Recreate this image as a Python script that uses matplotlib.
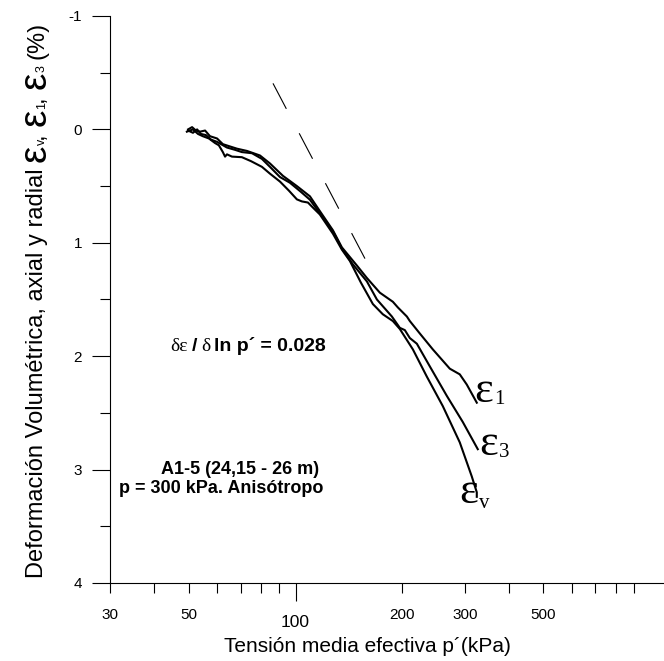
import matplotlib
matplotlib.use('Agg')
import matplotlib.pyplot as plt
from matplotlib.ticker import FixedLocator, FuncFormatter

plt.rcParams['font.family'] = ['Liberation Sans', 'DejaVu Sans']
plt.rcParams['axes.unicode_minus'] = False
plt.rcParams['lines.scale_dashes'] = False

# ---------------- data ----------------
p_e1 = [49.8, 51.1, 52.4, 53.8, 55.6, 57.4, 60.1, 62.4, 65.3, 68.4, 73.0, 79.4, 84.7, 92.2,
        100.9, 109.8, 117.1, 127.5, 135.1, 148.9, 158.9, 172.9, 188.1, 194.3, 206.0, 210.0,
        224.1, 243.8, 272.2, 290.4, 303.9, 324.3]
eps_1 = [0.00, -0.02, 0.01, 0.02, 0.01, 0.06, 0.08, 0.13, 0.15, 0.17, 0.19, 0.23, 0.30, 0.41,
         0.50, 0.59, 0.72, 0.89, 1.04, 1.20, 1.31, 1.44, 1.52, 1.57, 1.65, 1.69,
         1.80, 1.94, 2.11, 2.16, 2.25, 2.41]

p_e3 = [49.8, 51.4, 52.8, 54.1, 55.9, 57.8, 60.1, 64.1, 67.5, 70.6, 75.4, 80.4, 84.7, 90.4,
        96.4, 103.5, 109.8, 117.1, 127.5, 135.1, 145.1, 158.9, 169.6, 186.9, 196.8, 203.3,
        210.0, 219.8, 239.1, 267.0, 296.1, 326.4]
eps_3 = [0.01, 0.03, 0.00, 0.04, 0.05, 0.09, 0.11, 0.16, 0.18, 0.20, 0.21, 0.26, 0.33, 0.42,
         0.47, 0.55, 0.62, 0.74, 0.90, 1.05, 1.19, 1.34, 1.50, 1.65, 1.75, 1.77,
         1.84, 1.89, 2.09, 2.35, 2.58, 2.82]

p_ev = [49.4, 51.4, 53.1, 54.8, 57.0, 59.3, 60.8, 62.4, 63.3, 64.1, 66.2, 70.6, 74.9, 80.4,
        84.7, 90.4, 95.8, 100.9, 104.2, 108.4, 112.0, 117.1, 127.5, 135.1, 142.3, 152.8,
        165.2, 176.2, 188.1, 196.8, 214.2, 234.5, 260.1, 290.4, 313.9, 324.3, 324.3]
eps_v = [0.02, 0.00, 0.04, 0.06, 0.08, 0.12, 0.14, 0.20, 0.24, 0.22, 0.24, 0.245, 0.28, 0.33,
         0.39, 0.46, 0.54, 0.617, 0.635, 0.645, 0.69, 0.75, 0.92, 1.06, 1.16, 1.35,
         1.54, 1.63, 1.69, 1.76, 1.94, 2.18, 2.44, 2.76, 3.06, 3.20, 3.24]

p_slope = [86.4, 157.9]
eps_slope = [-0.406, 1.155]

x_major = [100]
x_minor = [30, 40, 50, 60, 70, 80, 90, 200, 300, 400, 500, 600, 700, 800, 900]
x_labeled = [30, 50, 200, 300, 500]
y_major = [-1, 0, 1, 2, 3, 4]
y_minor = [-0.5, 0.5, 1.5, 2.5, 3.5]

# ---------------- figure ----------------
W, H = 664, 661
fig = plt.figure(figsize=(W / 100, H / 100), dpi=100)
ax = fig.add_axes([110 / W, 1 - 583 / H, (W - 110) / W, (583 - 16) / H])

ax.plot(p_e1, eps_1, color='black', lw=1.5)
ax.plot(p_e3, eps_3, color='black', lw=1.5)
ax.plot(p_ev, eps_v, color='black', lw=1.5)
ax.plot(p_slope, eps_slope, color='black', lw=0.8, linestyle=(0, (20.7, 19.9)))

ax.set_xscale('log')
ax.set_xlim(30, 1093)
ax.set_ylim(4, -1)

for s in ['top', 'right']:
    ax.spines[s].set_visible(False)
for s in ['left', 'bottom']:
    ax.spines[s].set_linewidth(0.8)

ax.xaxis.set_major_locator(FixedLocator(x_major))
ax.xaxis.set_major_formatter(FuncFormatter(lambda v, p: f'{v:g}'))
ax.xaxis.set_minor_locator(FixedLocator(x_minor))
ax.xaxis.set_minor_formatter(FuncFormatter(
    lambda v, p: f'{v:g}' if any(abs(v - l) < 1e-6 for l in x_labeled) else ''))
ax.tick_params(axis='x', which='major', length=13, width=0.8, labelsize=12.5, pad=10)
ax.tick_params(axis='x', which='minor', length=7, width=0.8, labelsize=11, pad=11)

ax.yaxis.set_major_locator(FixedLocator(y_major))
ax.yaxis.set_major_formatter(FuncFormatter(lambda v, p: f'{int(round(v))}'))
ax.yaxis.set_minor_locator(FixedLocator(y_minor))
ax.tick_params(axis='y', which='major', length=13, width=0.8, labelsize=11, pad=7)
ax.tick_params(axis='y', which='minor', length=7, width=0.8)

ax.set_xlabel('Tensión media efectiva p´(kPa)', fontsize=15)
ax.xaxis.set_label_coords((367 - 110) / (W - 110), -(652 - 583) / (583 - 16))
ax.xaxis.label.set_va('baseline')

renderer = fig.canvas.get_renderer()


def fpos(xp, yp):
    return xp / W, 1 - yp / H


def hpieces(x_px, y_px, parts):
    x = x_px
    for s, size, fam, weight, dy, gap in parts:
        t = fig.text(*fpos(x, y_px + dy), s, fontsize=size, family=fam, weight=weight,
                     ha='left', va='baseline')
        bb = t.get_window_extent(renderer)
        x += bb.width + gap
    return x


def vpieces(x_px, y_px, parts):
    y = y_px
    for s, size, fam, dx, gap in parts:
        t = fig.text(*fpos(x_px + dx, y), s, fontsize=size, family=fam, rotation=90,
                     rotation_mode='anchor', ha='left', va='baseline')
        bb = t.get_window_extent(renderer)
        y -= bb.height + gap


SANS = ['Liberation Sans', 'DejaVu Sans']
SERIF = ['Liberation Serif', 'DejaVu Serif']

# y label built from pieces (big epsilons, small subscripts)
vpieces(43, 578, [
    ('Deformación Volumétrica, axial y radial', 17, SANS, 0, 6),
    ('ε', 28, SANS, 3, 0),
    ('v', 9, SANS, 2, 0),
    (',', 17, SANS, 0, 6),
    ('ε', 28, SANS, 3, 0),
    ('1', 9, SANS, 2, 0),
    (',', 17, SANS, 0, 6),
    ('ε', 28, SANS, 3, 0),
    ('3', 9, SANS, 2, 6),
    ('(%)', 17, SANS, 0, 0),
])

# slope annotation
hpieces(170, 351, [
    ('δε', 14, SERIF, 'normal', 0, 4),
    ('/', 14, SANS, 'bold', 0, 4),
    ('δ', 14, SERIF, 'normal', 0, 4),
    ('ln p´ = 0.028', 14, SANS, 'bold', 0, 0),
])

fig.text(*fpos(240, 474), 'A1-5 (24,15 - 26 m)', fontsize=13, weight='bold',
         ha='center', va='baseline')
fig.text(*fpos(221, 493), 'p = 300 kPa. Anisótropo', fontsize=13, weight='bold',
         ha='center', va='baseline')

# curve labels
hpieces(474, 402, [('ε', 32, SERIF, 'normal', 0, 1), ('1', 15, SERIF, 'normal', 2, 0)])
hpieces(479, 455, [('ε', 32, SERIF, 'normal', 0, 1), ('3', 15, SERIF, 'normal', 2, 0)])
hpieces(459, 503, [('ε', 32, SERIF, 'normal', 0, 1), ('v', 15, SERIF, 'normal', 5, 0)])

fig.savefig('out.png', dpi=100)
